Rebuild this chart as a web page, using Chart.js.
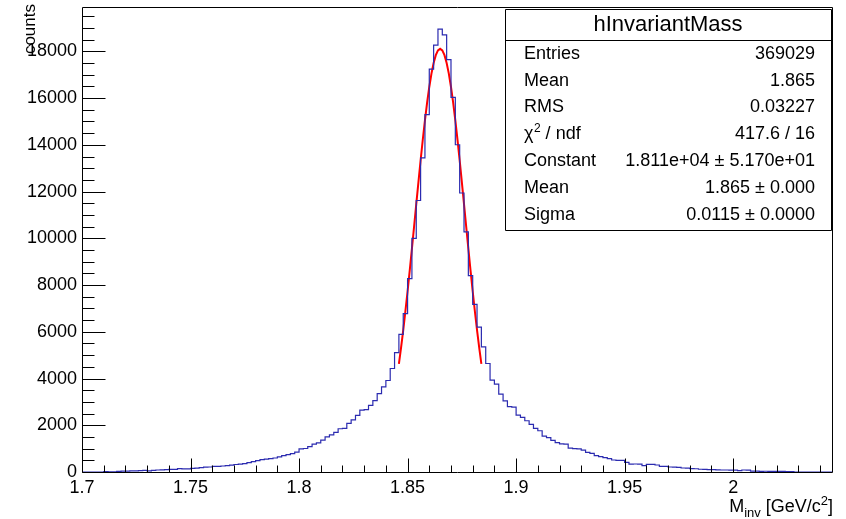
<!DOCTYPE html>
<html><head><meta charset="utf-8">
<script src="https://cdn.jsdelivr.net/npm/chart.js@4.4.1/dist/chart.umd.min.js"></script>
<style>html,body{margin:0;padding:0;background:#fff;}canvas{display:block;}</style>
</head><body>
<canvas id="c" width="846" height="519"></canvas>
<script>
// ---- binning / ranges ----
const binLow = 1.7;
const binWidth = 0.002;
const xMax = 2.046;
const yMax = 19900;

// ---- histogram contents (173 bins) ----
const counts = [
  0,0,0,0,0,20,5,5,30,35,
  40,45,50,55,71,50,70,85,88,100,
  112,115,142,130,132,157,170,185,212,215,
  240,244,256,272,290,320,340,362,405,440,
  490,530,555,570,600,650,700,740,790,850,
  990,1005,1090,1195,1250,1360,1500,1590,1694,1851,
  1870,2079,2235,2420,2649,2670,2848,3055,3354,3646,
  3916,4429,5113,5890,6779,8274,10000,11620,13443,15294,
  17245,18270,18953,18711,17650,16034,14005,11940,10280,8402,
  7177,6200,5353,4643,3930,3759,3332,3047,2800,2780,
  2435,2335,2193,2036,1865,1766,1538,1467,1353,1253,
  1205,1190,1025,1000,990,940,840,797,698,655,
  612,570,513,500,495,413,335,342,335,272,
  330,325,300,245,240,215,212,200,172,168,
  145,140,118,112,105,100,88,85,85,82,
  80,58,85,82,40,35,30,32,28,30,
  25,28,20,22,0,0,0,0,0,0,
  0,0,0
];

// ---- fitted curve ----
const fitX = [1.846,1.847,1.848,1.849,1.850,1.851,1.852,1.853,1.854,1.855,1.856,1.857,1.858,1.859,1.860,1.861,1.862,1.863,1.864,1.865,
              1.866,1.867,1.868,1.869,1.870,1.871,1.872,1.873,1.874,1.875,1.876,1.877,1.878,1.879,1.880,1.881,1.882,1.883,1.884];
const fitY = [4626,5320,6073,6880,7735,8632,9560,10507,11462,12409,13332,14218,15047,15805,16477,17047,17504,17838,18042,18110,
              18042,17838,17504,17047,16477,15805,15047,14218,13332,12409,11462,10507,9560,8632,7735,6880,6073,5320,4626];

// ---- tick labels ----
const xTickLabels = [1.7, 1.75, 1.8, 1.85, 1.9, 1.95, 2];
const yTickLabels = [0, 2000, 4000, 6000, 8000, 10000, 12000, 14000, 16000, 18000];

// ---- stats box ----
const statsTitle = 'hInvariantMass';
const statsNames = ['Entries', 'Mean', 'RMS', 'χ2 / ndf', 'Constant', 'Mean', 'Sigma'];
const statsValues = ['369029', '1.865', '0.03227', '417.6 / 16', '1.811e+04 ± 5.170e+01', '1.865 ± 0.000', '0.0115 ± 0.0000'];

const FONT = '"Liberation Sans", Arial, Helvetica, sans-serif';

const histPoints = counts.map((c, i) => ({x: binLow + i * binWidth, y: c}));
histPoints.push({x: binLow + counts.length * binWidth, y: counts[counts.length - 1]});
const fitPoints = fitX.map((x, i) => ({x: x, y: fitY[i]}));

const decor = {
  id: 'decor',
  afterDraw(chart) {
    const ctx = chart.ctx, a = chart.chartArea;
    const xs = chart.scales.x, ys = chart.scales.y;
    ctx.save();
    ctx.strokeStyle = '#000';
    ctx.lineWidth = 1;
    const L = Math.round(a.left) + 0.5, R = Math.round(a.right) - 0.5;
    const T = Math.round(a.top) + 0.5, B = Math.round(a.bottom) + 0.5;
    ctx.beginPath();
    ctx.moveTo(L, T); ctx.lineTo(R, T); ctx.lineTo(R, B); ctx.lineTo(L, B); ctx.closePath();
    ctx.stroke();
    // inward ticks
    ctx.beginPath();
    for (let k = 0; k * 500 <= yMax; k++) {
      const v = k * 500;
      const p = Math.round(ys.getPixelForValue(v)) + 0.5;
      const len = (k % 4 === 0) ? 23 : 12;
      ctx.moveTo(L, p); ctx.lineTo(L + len, p);
    }
    for (let i = 0; binLow + i * 0.01 <= xMax + 1e-9; i++) {
      const p = Math.round(xs.getPixelForValue(binLow + i * 0.01)) + 0.5;
      const len = (i % 5 === 0) ? 14 : 7;
      ctx.moveTo(p, B); ctx.lineTo(p, B - len);
    }
    ctx.stroke();

    ctx.fillStyle = '#000';
    // y title
    ctx.save();
    ctx.translate(35, 4);
    ctx.rotate(-Math.PI / 2);
    ctx.font = '17px ' + FONT;
    ctx.textAlign = 'right';
    ctx.textBaseline = 'alphabetic';
    ctx.fillText('counts', 0, 0);
    ctx.restore();

    // x title  M_inv [GeV/c^2]
    const big = '18px ' + FONT, small = '13px ' + FONT;
    const parts = [
      {t: 'M', f: big, dy: 0},
      {t: 'inv', f: small, dy: 5},
      {t: ' [GeV/c', f: big, dy: 0},
      {t: '2', f: small, dy: -7},
      {t: ']', f: big, dy: 0}
    ];
    let total = 0;
    parts.forEach(p => { ctx.font = p.f; p.w = ctx.measureText(p.t).width; total += p.w; });
    let px = Math.round(a.right) - total;
    const base = 512;
    ctx.textAlign = 'left';
    ctx.textBaseline = 'alphabetic';
    parts.forEach(p => { ctx.font = p.f; ctx.fillText(p.t, px, base + p.dy); px += p.w; });

    // stats box
    const bx0 = 505, bx1 = 831, by0 = 9, by1 = 230, sep = 40;
    ctx.fillStyle = '#fff';
    ctx.fillRect(bx0, by0, bx1 - bx0, by1 - by0);
    ctx.strokeStyle = '#000';
    ctx.beginPath();
    ctx.rect(bx0 + 0.5, by0 + 0.5, bx1 - bx0, by1 - by0);
    ctx.moveTo(bx0 + 0.5, sep + 0.5); ctx.lineTo(bx1 + 0.5, sep + 0.5);
    ctx.stroke();
    ctx.fillStyle = '#000';
    ctx.font = '22px ' + FONT;
    ctx.textAlign = 'center';
    ctx.fillText(statsTitle, (bx0 + bx1) / 2, 31);
    const rowBase = [58.5, 85.5, 112, 138.5, 165.5, 192.5, 219.5];
    statsNames.forEach((n, i) => {
      const yb = rowBase[i];
      ctx.textAlign = 'left';
      if (n.indexOf('χ2') === 0) {
        ctx.font = '18px ' + FONT;
        ctx.fillText('χ', 524, yb);
        let w = ctx.measureText('χ').width;
        ctx.font = '12px ' + FONT;
        ctx.fillText('2', 524 + w + 0.5, yb - 7);
        w += ctx.measureText('2').width + 0.5;
        ctx.font = '18px ' + FONT;
        ctx.fillText(n.slice(2), 524 + w, yb);
      } else {
        ctx.font = '18px ' + FONT;
        ctx.fillText(n, 524, yb);
      }
      ctx.font = '18px ' + FONT;
      ctx.textAlign = 'right';
      ctx.fillText(statsValues[i], 815, yb);
    });
    ctx.restore();
  }
};

new Chart(document.getElementById('c'), {
  type: 'line',
  data: {
    datasets: [
      {data: histPoints, borderColor: '#2b2bb0', borderWidth: 1.2, stepped: 'before', pointRadius: 0, fill: false, tension: 0},
      {data: fitPoints, borderColor: '#ff0000', borderWidth: 2, pointRadius: 0, fill: false, tension: 0}
    ]
  },
  options: {
    responsive: false,
    animation: false,
    devicePixelRatio: 1,
    layout: {padding: {left: 0, top: 7, right: 13, bottom: 0}},
    plugins: {legend: {display: false}, tooltip: {enabled: false}},
    scales: {
      x: {
        type: 'linear', min: binLow, max: xMax,
        grid: {display: false, drawTicks: false},
        border: {display: false},
        afterBuildTicks: s => { s.ticks = xTickLabels.map(v => ({value: v})); },
        afterFit: s => { s.height = 47; s.paddingLeft = 0; s.paddingRight = 0; },
        ticks: {autoSkip: false, maxRotation: 0, padding: 5, color: '#000',
                font: {family: FONT, size: 18},
                callback: v => String(Number(v.toFixed(3)))}
      },
      y: {
        type: 'linear', min: 0, max: yMax,
        grid: {display: false, drawTicks: false},
        border: {display: false},
        afterBuildTicks: s => { s.ticks = yTickLabels.map(v => ({value: v})); },
        afterFit: s => { s.width = 82; s.paddingTop = 0; s.paddingBottom = 0; },
        ticks: {autoSkip: false, padding: 5, color: '#000',
                font: {family: FONT, size: 18},
                callback: v => String(v)}
      }
    }
  },
  plugins: [decor]
});
</script>
</body></html>
